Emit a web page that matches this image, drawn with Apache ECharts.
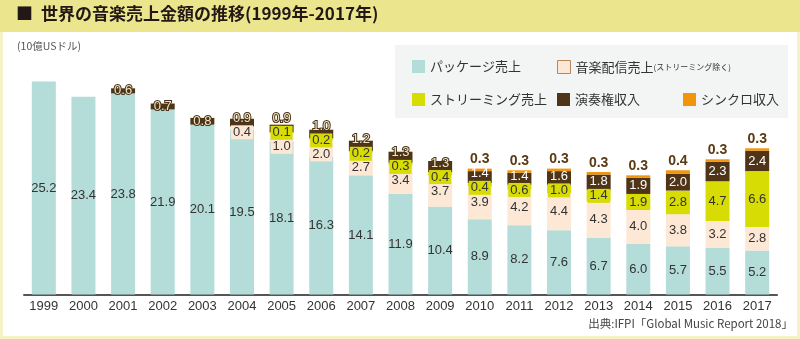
<!DOCTYPE html>
<html><head><meta charset="utf-8">
<script src="https://cdn.jsdelivr.net/npm/echarts@6/dist/echarts.min.js"></script>
<style>html,body{margin:0;padding:0;background:#fff}#c{width:800px;height:339px}</style>
</head><body><div id="c"></div>
<script>
const years = ['1999','2000','2001','2002','2003','2004','2005','2006','2007','2008','2009','2010','2011','2012','2013','2014','2015','2016','2017'];
const seriesNames = ['パッケージ売上','音楽配信売上','ストリーミング売上','演奏権収入','シンクロ収入'];
const packageSales = [25.2,23.4,23.8,21.9,20.1,19.5,18.1,16.3,14.1,11.9,10.4,8.9,8.2,7.6,6.7,6.0,5.7,5.5,5.2];
const downloadSales = [null,null,null,null,null,0.4,1.0,2.0,2.7,3.4,3.7,3.9,4.2,4.4,4.3,4.0,3.8,3.2,2.8];
const streamingSales = [null,null,null,null,null,null,0.1,0.2,0.2,0.3,0.4,0.4,0.6,1.0,1.4,1.9,2.8,4.7,6.6];
const performanceRights = [null,null,0.6,0.7,0.8,0.9,0.9,1.0,1.2,1.3,1.3,1.4,1.4,1.6,1.8,1.9,2.0,2.3,2.4];
const syncRevenue = [null,null,null,null,null,null,null,null,null,null,null,0.3,0.3,0.3,0.3,0.3,0.4,0.3,0.3];

const allSeries = [packageSales, downloadSales, streamingSales, performanceRights, syncRevenue];
const colors = ['#b4dcd9','#fce8d5','#d8dc05','#4f3417','#f0950c'];
const numFont = 'Liberation Sans';
const jpFont = 'Noto Sans CJK JP';
const fmt = p => (p.value == null ? '' : Number(p.value).toFixed(1));

// vertical label shifts (pixels), filled after the first layout pass
const labelShift = [[], [], [], []];
const layoutFn = p => ({ dy: (labelShift[p.seriesIndex] && labelShift[p.seriesIndex][p.dataIndex]) || 0 });

const chart = echarts.init(document.getElementById('c'), null, {renderer:'canvas'});
const baseLegend = {
  orient:'horizontal', padding:0, itemGap:0, itemWidth:13, itemHeight:13, icon:'rect',
  selectedMode:false,
  textStyle:{fontSize:13, color:'#333', fontFamily:jpFont, rich:{s:{fontSize:8, color:'#333', fontFamily:jpFont}}}
};
function seriesOption() {
  return [
    {name:seriesNames[0], type:'bar', stack:'t', barWidth:24, data:packageSales,
     itemStyle:{color:colors[0]}, labelLayout: layoutFn,
     label:{show:true, position:'inside', formatter:fmt, color:'#333', fontSize:13, fontFamily:numFont}},
    {name:seriesNames[1], type:'bar', stack:'t', barWidth:24, data:downloadSales,
     itemStyle:{color:colors[1]}, labelLayout: layoutFn,
     label:{show:true, position:'inside', formatter:fmt, color:'#333', fontSize:13, fontFamily:numFont,
       backgroundColor:colors[1], padding:[1,2,0,2]}},
    {name:seriesNames[2], type:'bar', stack:'t', barWidth:24, data:streamingSales,
     itemStyle:{color:colors[2]}, labelLayout: layoutFn,
     label:{show:true, position:'inside', formatter:fmt, color:'#333', fontSize:13, fontFamily:numFont,
       backgroundColor:colors[2], padding:[1,2,0,2]}},
    {name:seriesNames[3], type:'bar', stack:'t', barWidth:24, data:performanceRights,
     itemStyle:{color:colors[3]}, labelLayout: layoutFn,
     label:{show:true, position:'inside', fontSize:13, fontFamily:numFont,
       formatter: p => p.value == null ? '' : (p.dataIndex < 11 ? '{o|' + fmt(p) + '}' : '{w|' + fmt(p) + '}'),
       rich:{
         o:{color:'#efe5c4', textBorderColor:'#4a3216', textBorderWidth:2, fontSize:13, fontFamily:numFont},
         w:{color:'#ffffff', fontSize:13, fontFamily:numFont}
       }}},
    {name:seriesNames[4], type:'bar', stack:'t', barWidth:24, data:syncRevenue,
     itemStyle:{color:colors[4]},
     label:{show:true, position:'top', distance:2, formatter:fmt, color:'#5a3a12', fontWeight:'bold', fontSize:14, fontFamily:numFont}}
  ];
}
chart.setOption({
  animation:false,
  backgroundColor:'#f5f2c6',
  graphic:[
    {type:'rect', z:-10, shape:{x:0,y:0,width:800,height:32}, style:{fill:'#ebe68e'}},
    {type:'rect', z:-10, shape:{x:3,y:32,width:794,height:304}, style:{fill:'#ffffff'}},
    {type:'rect', z:-9, shape:{x:395,y:45,width:393,height:73}, style:{fill:'#f3f4f4'}}
  ],
  title:[
    {text:'■', left:16, top:5, padding:0,
     textStyle:{fontSize:17, fontWeight:'bold', color:'#231815', fontFamily:jpFont}},
    {text:'世界の音楽売上金額の推移(1999年-2017年)', left:41, top:5, padding:0,
     textStyle:{fontSize:17, fontWeight:'bold', color:'#231815', fontFamily:jpFont}},
    {text:'(10億USドル)', left:17, top:41, padding:0,
     textStyle:{fontSize:10.5, fontWeight:'normal', color:'#555', fontFamily:jpFont}},
    {text:'出典:IFPI「Global Music Report 2018」', right:7, top:318, padding:0,
     textStyle:{fontSize:11.5, fontWeight:'normal', color:'#444', fontFamily:jpFont}}
  ],
  legend:[
    Object.assign({}, baseLegend, {left:412, top:60, data:[seriesNames[0]]}),
    Object.assign({}, baseLegend, {left:557, top:60, data:[{name:seriesNames[1], itemStyle:{borderColor:'#b8865a', borderWidth:1}}],
      formatter: n => n + '{s|(ストリーミング除く)}'}),
    Object.assign({}, baseLegend, {left:412, top:93, data:[seriesNames[2]]}),
    Object.assign({}, baseLegend, {left:557, top:93, data:[seriesNames[3]]}),
    Object.assign({}, baseLegend, {left:683, top:93, data:[seriesNames[4]]})
  ],
  grid:{left:24, right:23, top:41, bottom:44.5, containLabel:false},
  xAxis:{type:'category', data:years,
    axisLine:{lineStyle:{color:'#555', width:2}}, axisTick:{show:false},
    axisLabel:{color:'#333', fontSize:13, fontFamily:numFont, margin:5}},
  yAxis:{type:'value', min:0, max:30, show:false, splitLine:{show:false}},
  series: seriesOption()
});

// spread stacked labels that would overlap (resolve via the chart's own y scale)
const GAP = 14;
for (let i = 0; i < years.length; i++) {
  let base = 0;
  const items = [];
  for (let s = 0; s < 4; s++) {
    const v = allSeries[s][i];
    if (v == null) continue;
    const y = chart.convertToPixel({gridIndex:0}, [i, base + v / 2])[1];
    items.push({s, y});
    base += v;
  }
  items.sort((a, b) => a.y - b.y); // top to bottom
  let groups = items.map(it => ({members:[it], sum:it.y}));
  let merged = true;
  while (merged) {
    merged = false;
    for (let g = 0; g < groups.length - 1; g++) {
      const a = groups[g], b = groups[g + 1];
      const aBottom = a.sum / a.members.length + (a.members.length - 1) * GAP / 2;
      const bTop = b.sum / b.members.length - (b.members.length - 1) * GAP / 2;
      if (bTop - aBottom < GAP) {
        groups.splice(g, 2, {members:a.members.concat(b.members), sum:a.sum + b.sum});
        merged = true;
        break;
      }
    }
  }
  groups.forEach(g => {
    const n = g.members.length;
    const start = g.sum / n - (n - 1) * GAP / 2;
    g.members.forEach((m, j) => { labelShift[m.s][i] = start + j * GAP - m.y; });
  });
}
chart.setOption({series: seriesOption()});
</script>
</body></html>
